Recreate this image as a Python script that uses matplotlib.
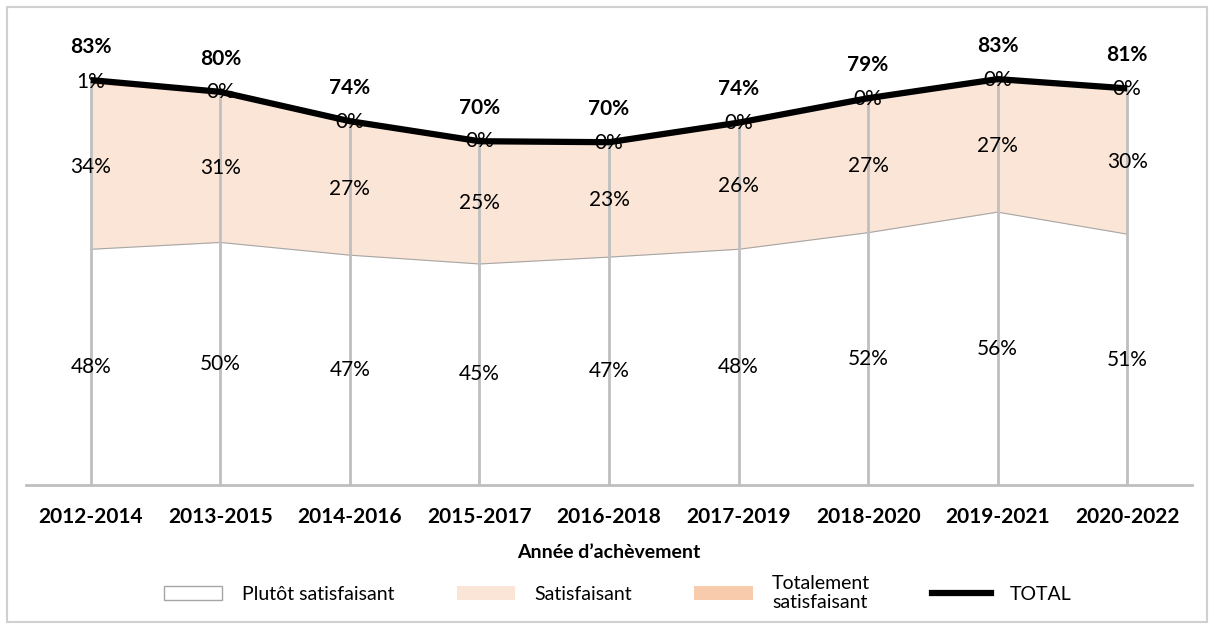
import numpy as np
import matplotlib.pyplot as plt
from matplotlib.patches import Rectangle, Patch
from matplotlib.lines import Line2D

plt.rcParams['font.family'] = ['Lato', 'DejaVu Sans']

periodes = ['2012-2014', '2013-2015', '2014-2016', '2015-2017', '2016-2018',
            '2017-2019', '2018-2020', '2019-2021', '2020-2022']
plutot = [48.2, 49.6, 47.0, 45.2, 46.6, 48.2, 51.6, 55.8, 51.3]
satisf = [33.8, 30.6, 27.2, 25.0, 23.3, 25.8, 27.3, 27.0, 29.7]
totalement = [0.8, 0.2, 0.2, 0.1, 0.2, 0.1, 0.2, 0.2, 0.1]

x = np.arange(len(periodes))
p = np.array(plutot)
s = np.array(satisf)
t = np.array(totalement)
total = p + s + t

fig = plt.figure(figsize=(12.13, 6.24), dpi=100)
# cadre gris autour du graphique
fig.patches.append(Rectangle((7/1213, 2/624), 1200/1213, 615/624, transform=fig.transFigure,
                             fill=False, edgecolor='#D0D0D0', linewidth=1.5))
ax = fig.add_axes([26/1213, 1 - 485/624, 1166/1213, 445/624])

c_sat = '#FBE5D6'
c_tot = '#F8CBAD'
ax.fill_between(x, 0, p, color='white', zorder=1)
ax.plot(x, p, color='#A6A6A6', lw=0.8, zorder=2)
ax.fill_between(x, p, p + s, color=c_sat, lw=0, zorder=1)
ax.fill_between(x, p + s, total, color=c_tot, lw=0, zorder=1)

# lignes de projection
ax.vlines(x, 0, total, color='#BFBFBF', lw=2, zorder=3)

fs = 15
for i in range(len(x)):
    ax.text(x[i], p[i] / 2, f'{p[i]:.0f}%', ha='center', va='center', fontsize=fs, zorder=5)
    ax.text(x[i], p[i] + s[i] / 2, f'{s[i]:.0f}%', ha='center', va='center', fontsize=fs, zorder=5)
    ax.text(x[i], p[i] + s[i] + t[i] / 2, f'{t[i]:.0f}%', ha='center', va='center', fontsize=fs, zorder=4)
    ax.annotate(f'{total[i]:.0f}%', (x[i], total[i]), xytext=(0, 24), textcoords='offset points',
                ha='center', va='center', fontsize=fs, fontweight='bold', zorder=6)

ax.plot(x, total, color='black', lw=4.5, zorder=4.5, solid_capstyle='butt')

ax.set_xlim(-0.5, len(x) - 0.5)
ax.set_ylim(0, 91)
ax.set_xticks(x)
ax.set_xticklabels(periodes, fontsize=15, fontweight='bold')
ax.tick_params(axis='x', length=0, pad=16)
ax.set_yticks([])
for sp in ['top', 'right', 'left']:
    ax.spines[sp].set_visible(False)
ax.spines['bottom'].set_color('#BFBFBF')
ax.spines['bottom'].set_linewidth(2)
ax.set_xlabel('Année d\u2019achèvement', fontsize=14, fontweight='bold', labelpad=12)

handles = [Patch(facecolor='white', edgecolor='#A6A6A6', linewidth=1),
           Patch(facecolor=c_sat, edgecolor='none'),
           Patch(facecolor=c_tot, edgecolor='none'),
           Line2D([0], [0], color='black', lw=4.5)]
labels = ['Plutôt satisfaisant', 'Satisfaisant', 'Totalement\nsatisfaisant', 'TOTAL']
fig.legend(handles, labels, loc='center', bbox_to_anchor=(618/1213, 1 - 593/624), ncol=4,
           frameon=False, fontsize=14, handlelength=3.0, handleheight=0.7, columnspacing=3.2,
           handletextpad=1.0)

fig.savefig('out.png', dpi=100)
